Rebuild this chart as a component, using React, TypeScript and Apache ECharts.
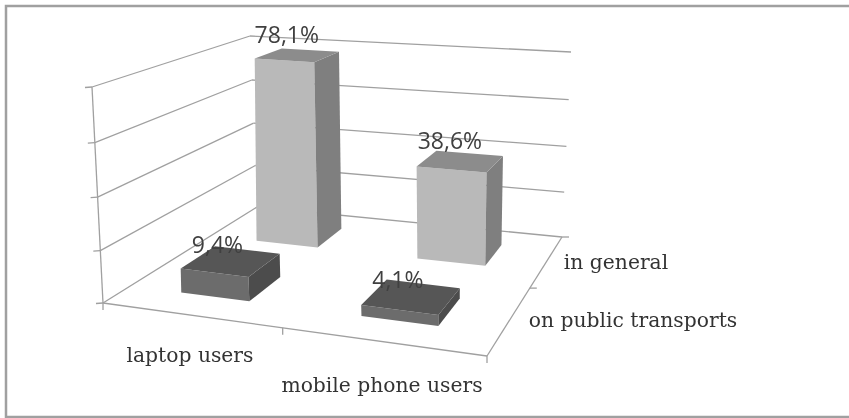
import React, { useEffect, useRef } from "react";
import * as echarts from "echarts";

const categories = ["laptop users", "mobile phone users"];
const depthLabels = ["in general", "on public transports"];
const inGeneral = [78.1, 38.6];
const onPublicTransports = [9.4, 4.1];
const valueTicks = [0, 20, 40, 60, 80];

type Pt = [number, number];
const FLOOR: Pt[] = [[103, 303], [487, 356], [562, 237], [257, 207]];
const TOP: Pt[] = [[92, 87], [492, 123], [571, 52], [250, 36]];
const BAR_TOP: Pt[] = [[100, 87], [493, 123], [570, 52], [258, 36]];
const K = 1.04;
const GRID_C = "#a0a0a0";
const SERIF = "'DejaVu Serif', serif";
const SANS = "'Open Sans', sans-serif";

function homography(q: Pt[]) {
  const [[x0, y0], [x1, y1], [x2, y2], [x3, y3]] = q;
  const dx1 = x1 - x2, dx2 = x3 - x2, dx3 = x0 - x1 + x2 - x3;
  const dy1 = y1 - y2, dy2 = y3 - y2, dy3 = y0 - y1 + y2 - y3;
  const det = dx1 * dy2 - dx2 * dy1;
  const g = (dx3 * dy2 - dx2 * dy3) / det;
  const h = (dx1 * dy3 - dx3 * dy1) / det;
  const a = x1 - x0 + g * x1, b = x3 - x0 + h * x3;
  const d = y1 - y0 + g * y1, e = y3 - y0 + h * y3;
  return (u: number, w: number): Pt => {
    const s = g * u + h * w + 1;
    return [(a * u + b * w + x0) / s, (d * u + e * w + y0) / s];
  };
}
const floorH = homography(FLOOR);
const topH = homography(TOP);
const barTopH = homography(BAR_TOP);
function projectWith(H: (u: number, w: number) => Pt, u: number, w: number, f: number): Pt {
  const a = floorH(u, w), b = H(u, w);
  const s = f / (f + (1 - f) * K);
  return [a[0] + (b[0] - a[0]) * s, a[1] + (b[1] - a[1]) * s];
}
const project = (u: number, w: number, f: number) => projectWith(topH, u, w, f);
// fraction of the value axis, read through the chart's own y scale
function frac(api: any, v: number) {
  const y0 = api.coord([0, 0])[1];
  const yMax = api.coord([0, 80])[1];
  const y = api.coord([0, v])[1];
  return (y0 - y) / (y0 - yMax);
}
const ln = (a: Pt, b: Pt) => ({
  type: "line", silent: true,
  shape: { x1: a[0], y1: a[1], x2: b[0], y2: b[1] },
  style: { stroke: GRID_C, lineWidth: 1.3, fill: "none" },
});
const poly = (pts: Pt[], fill: string) => ({
  type: "polygon", silent: true, shape: { points: pts },
  style: { fill, stroke: "none" },
});
const txt = (p: Pt, text: string, font: string, fill: string) => ({
  type: "text", silent: true, x: p[0], y: p[1],
  style: { text, font, fill, align: "center", verticalAlign: "middle" },
});

const makeBar = (depth: number, colors: string[], nudge: Pt) =>
  (params: any, api: any) => {
    const cat = api.value(0), v = api.value(1);
    const cu = (cat + 0.5) / categories.length;
    const cw = (depth + 0.5) / depthLabels.length;
    const hu = 0.098, hw = 0.105;
    const f = frac(api, v);
    const P = (su: number, sw: number, t: number) =>
      projectWith(barTopH, cu + su * hu, cw + sw * hw, t);
    const center = P(0, 0, f);
    return {
      type: "group",
      children: [
        poly([P(-1, -1, 0), P(1, -1, 0), P(1, -1, f), P(-1, -1, f)], colors[0]),
        poly([P(1, -1, 0), P(1, 1, 0), P(1, 1, f), P(1, -1, f)], colors[1]),
        poly([P(-1, -1, f), P(1, -1, f), P(1, 1, f), P(-1, 1, f)], colors[2]),
        txt([center[0] + nudge[0], center[1] + nudge[1]],
          String(v).replace(".", ",") + "%", "23px " + SANS, "#404040"),
      ],
    };
  };

const wallRender = (params: any, api: any) => {
  const f = frac(api, api.value(1));
  const a = project(0, 0, f), b = project(0, 1, f), c = project(1, 1, f);
  return {
    type: "group",
    children: [ln([a[0] - 7, a[1] + 0.5], a), ln(a, b), ln(b, c)],
  };
};

const frameRender = (params: any, api: any) => {
  const children: any[] = [];
  children.push(ln(project(0, 0, 0), project(0, 0, 1)));
  children.push(ln(project(0, 0, 0), project(1, 0, 0)));
  children.push(ln(project(1, 0, 0), project(1, 1, 0)));
  [0, 0.5, 1].forEach((u) => {
    const p = project(u, 0, 0);
    children.push(ln(p, [p[0], p[1] + 7]));
  });
  [0.5, 1].forEach((w) => {
    const p = project(1, w, 0);
    children.push(ln(p, [p[0] + 7, p[1]]));
  });
  return { type: "group", children };
};

const LABEL_POS: Pt[] = [[190, 355], [382, 385]];
const DEPTH_POS: Pt[] = [[616, 262], [633, 320]];
const labelRender = (list: string[], pos: Pt[]) => (params: any, api: any) => {
  const i = params.dataIndex;
  return txt(pos[i], list[i], "20.3px " + SERIF, "#333");
};

export default function App() {
  const ref = useRef<HTMLDivElement>(null);
  useEffect(() => {
    const chart = echarts.init(ref.current!, undefined, { renderer: "svg" });
    const custom = (renderItem: any, data: any[], z: number) => ({
      type: "custom", renderItem, data, z, clip: false, silent: true,
      encode: { x: 0, y: 1 },
    });
    chart.setOption({
      animation: false,
      backgroundColor: "#fff",
      grid: { left: 0, right: 0, top: 0, bottom: 0 },
      xAxis: { type: "category", data: categories, show: false },
      yAxis: { type: "value", min: 0, max: 80, interval: 20, show: false },
      graphic: [{
        type: "rect", silent: true, z: -1,
        shape: { x: 6, y: 6, width: 850, height: 411 },
        style: { fill: "#fff", stroke: "#a0a0a0", lineWidth: 2.5 },
      }],
      series: [
        custom(wallRender, valueTicks.map((t) => [0, t]), 1),
        custom(frameRender, [[0, 0]], 1),
        custom(makeBar(1, ["#b9b9b9", "#7f7f7f", "#8c8c8c"], [-10.5, -21]),
          inGeneral.map((v, i) => [i, v]), 2),
        custom(makeBar(0, ["#6c6c6c", "#4c4c4c", "#565656"], [-13.5, -17]),
          onPublicTransports.map((v, i) => [i, v]), 3),
        custom(labelRender(categories, LABEL_POS), categories.map((c, i) => [i, 0]), 4),
        custom(labelRender(depthLabels, DEPTH_POS), depthLabels.map((c, i) => [i, 0]), 4),
      ],
    });
    return () => chart.dispose();
  }, []);
  return (
    <div
      ref={ref}
      style={{ position: "absolute", left: 0, top: 0, width: 849, height: 418, filter: "blur(0.5px)" }}
    />
  );
}
